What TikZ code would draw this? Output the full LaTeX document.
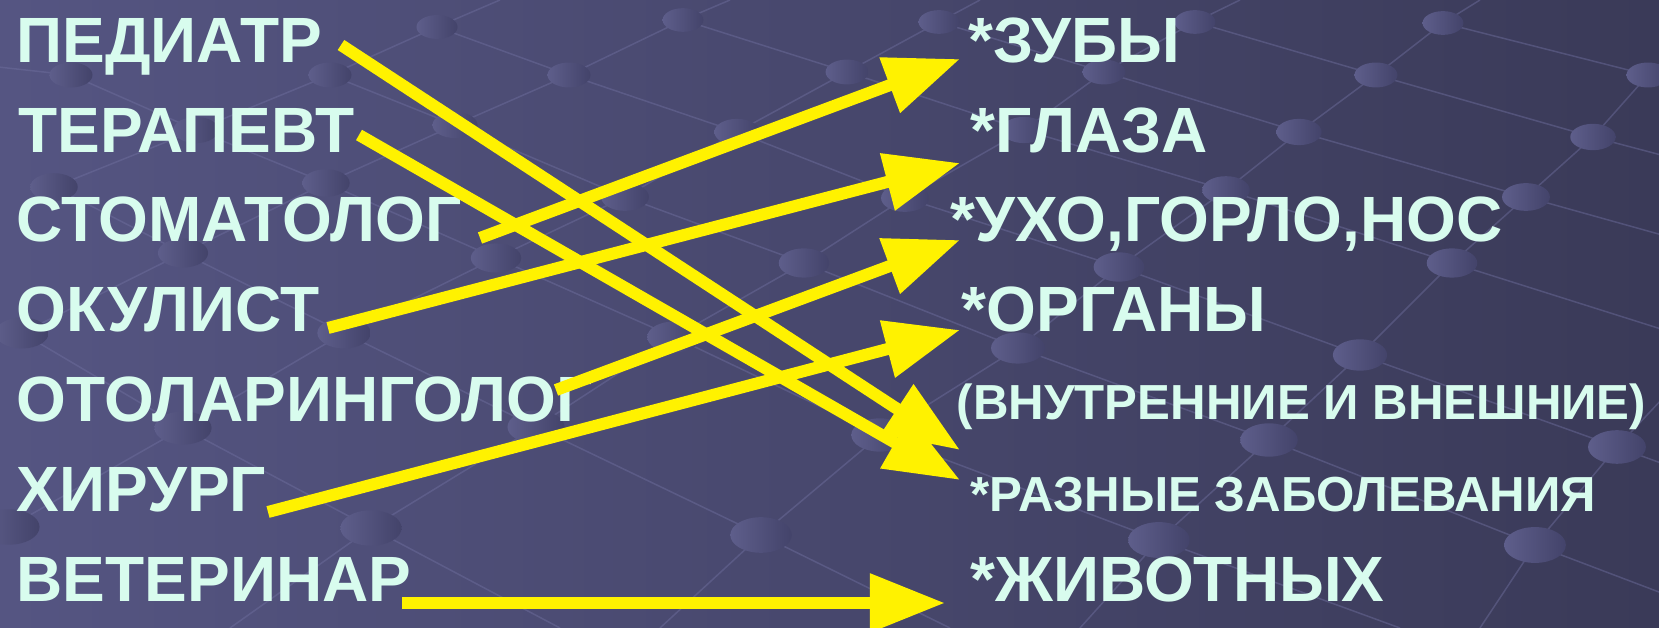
\documentclass[tikz,border=0pt]{standalone}
\usepackage{fontspec}
\setmainfont{Liberation Sans}
\usepackage{tikz}
\usetikzlibrary{arrows.meta,positioning}

\definecolor{bgleft}{HTML}{555582}
\definecolor{bgright}{HTML}{3A3A58}
\definecolor{mint}{HTML}{D8FCEE}
\definecolor{ballL}{HTML}{5E5E8B}
\definecolor{ballR}{HTML}{43436A}
\definecolor{meshc}{HTML}{7070A0}

\tikzstyle{word} = [anchor=base west, inner sep=0pt, text=mint, font=\fontsize{18.2pt}{23pt}\selectfont\bfseries]
\tikzstyle{smallword} = [word, font=\fontsize{14pt}{17pt}\selectfont\bfseries]
\tikzstyle{link} = [draw=yellow, line width=0.12cm, -{Triangle[length=0.75cm,width=0.56cm]}]
\tikzstyle{mesh} = [draw=meshc, line width=0.015cm, opacity=0.45]

\begin{document}
\begin{tikzpicture}[x=0.01cm,y=-0.01cm]
\useasboundingbox (0,0) rectangle (1659,628);

%% Background with lines and balls
\shade[left color=bgleft, right color=bgright] (0,0) rectangle (1659,628);
\begin{scope}
\draw[mesh] (71,75) -- (196,130) -- (326,183) -- (496,258) -- (674,337) -- (880,435) -- (1159,540) -- (1400,628);
\draw[mesh] (437,27) -- (569,75) -- (737,132) -- (905,198) -- (1119,267) -- (1360,355) -- (1617,447) -- (1680,470);
\draw[mesh] (683,20) -- (847,72) -- (1024,130) -- (1226,190) -- (1452,263) -- (1680,335);
\draw[mesh] (939,22) -- (1104,72) -- (1299,132) -- (1526,197) -- (1680,240);
\draw[mesh] (1195,22) -- (1376,75) -- (1593,137) -- (1680,160);
\draw[mesh] (1443,23) -- (1648,75) -- (1680,83);
\draw[mesh] (330,75) -- (455,125) -- (625,197) -- (804,263) -- (1018,348) -- (1269,440) -- (1535,545) -- (1680,600);
\draw[mesh] (54,187) -- (183,253) -- (344,333) -- (536,427) -- (761,535) -- (950,628);
\draw[mesh] (22,333) -- (183,428) -- (371,528) -- (560,628);
\draw[mesh] (-20,65) -- (71,75);
\draw[mesh] (54,187) -- (196,130) -- (330,75) -- (437,27) -- (500,0);
\draw[mesh] (22,333) -- (183,253) -- (326,183) -- (455,125) -- (569,75) -- (683,20) -- (730,0);
\draw[mesh] (9,527) -- (183,428) -- (344,333) -- (496,258) -- (625,197) -- (737,132) -- (847,72) -- (939,22) -- (980,0);
\draw[mesh] (230,628) -- (371,528) -- (536,427) -- (674,337) -- (804,263) -- (905,198) -- (1024,130) -- (1104,72) -- (1195,22) -- (1240,0);
\draw[mesh] (660,628) -- (761,535) -- (880,435) -- (1018,348) -- (1119,267) -- (1226,190) -- (1299,132) -- (1376,75) -- (1443,23) -- (1480,0);
\draw[mesh] (1080,628) -- (1159,540) -- (1269,440) -- (1360,355) -- (1452,263) -- (1526,197) -- (1593,137) -- (1648,75) -- (1680,45);
\draw[mesh] (1480,628) -- (1535,545) -- (1617,447) -- (1680,380);
\foreach \bx/\by in {437/27,683/20,939/22,1195/22,1443/23,71/75,330/75,569/75,847/72,1104/72,1376/75,1648/75,
  196/130,455/125,737/132,1024/130,1299/132,1593/137,54/187,326/183,625/197,905/198,1226/190,1526/197,
  183/253,496/258,804/263,1119/267,1452/263,22/333,344/333,674/337,1018/348,1360/355,
  183/428,536/427,880/435,1269/440,1617/447,9/527,371/528,761/535,1159/540,1535/545}
{
  \pgfmathsetmacro{\bw}{20+\by*0.02}
  \shade[left color=ballL, right color=ballR] (\bx,\by) ellipse [x radius=\bw*0.01cm, y radius=\bw*0.0058cm];
}
\end{scope}

%% Specialists
\node[word] (ped)  at (16,63)  {ПЕДИАТР};
\node[word] (ter)  at (18,153) {ТЕРАПЕВТ};
\node[word] (stom) at (16,242) {СТОМАТОЛОГ};
\node[word] (okul) at (16,332) {ОКУЛИСТ};
\node[word] (otol) at (16,422) {ОТОЛАРИНГОЛОГ};
\node[word] (hir)  at (16,512) {ХИРУРГ};
\node[word] (vet)  at (16,602) {ВЕТЕРИНАР};

%% What they treat
\node[word] (zub)  at (968,63)  {*ЗУБЫ};
\node[word] (glaz) at (970,153) {*ГЛАЗА};
\node[word] (uho)  at (950,242) {*УХО,ГОРЛО,НОС};
\node[word] (org)  at (961,332) {*ОРГАНЫ};
\node[smallword] (vnut) at (956,420) {(ВНУТРЕННИЕ И ВНЕШНИЕ)};
\node[smallword] (razn) at (970,512) {*РАЗНЫЕ ЗАБОЛЕВАНИЯ};
\node[word] (ziv)  at (970,602) {*ЖИВОТНЫХ};

%% Arrow ends
\coordinate (ped-o)  at (341,45);
\coordinate (ter-o)  at (359,135);
\coordinate (stom-o) at (480,238);
\coordinate (okul-o) at (328,328);
\coordinate (otol-o) at (556,390);
\coordinate (hir-o)  at (268,512);
\coordinate (vet-o)  at (402,603);
\coordinate (zub-i)  at (960,59);
\coordinate (glaz-i) at (960,163);
\coordinate (uho-i)  at (960,240);
\coordinate (org-i)  at (960,330);
\coordinate (vnut-i) at (960,450);
\coordinate (razn-i) at (960,480);
\coordinate (ziv-i)  at (945,603);

%% Matching arrows
\draw[link] (ped-o) -- (vnut-i);
\draw[link] (ter-o) -- (razn-i);
\draw[link] (stom-o) -- (zub-i);
\draw[link] (okul-o) -- (glaz-i);
\draw[link] (otol-o) -- (uho-i);
\draw[link] (hir-o) -- (org-i);
\draw[link] (vet-o) -- (ziv-i);

\end{tikzpicture}
\end{document}
